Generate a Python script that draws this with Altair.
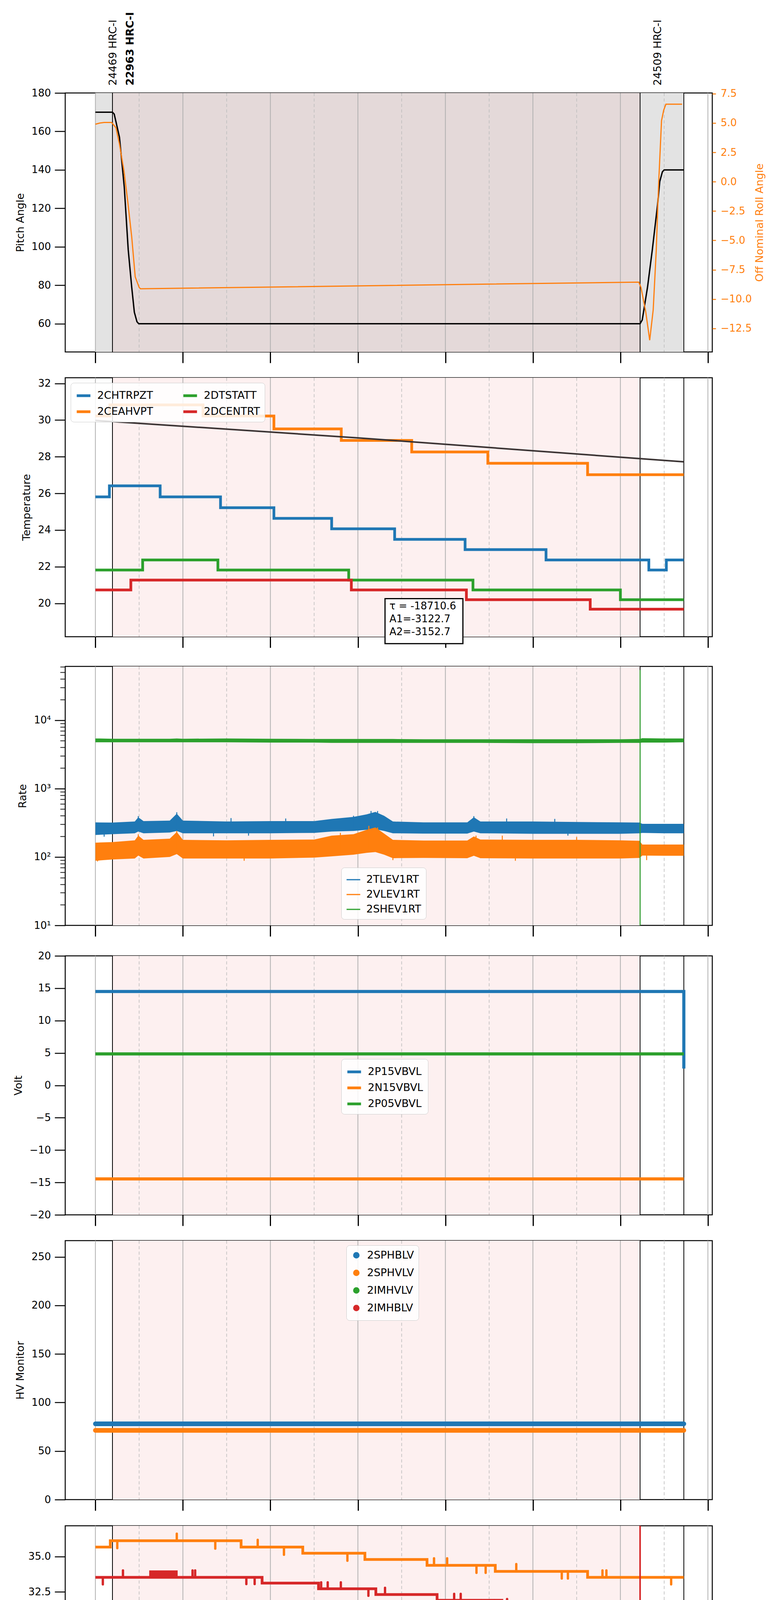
import altair as alt
import pandas as pd

BLUE, ORANGE, GREEN, RED = '#1f77b4', '#ff7f0e', '#2ca02c', '#d62728'
FONT = 'DejaVu Sans'
W, H = 1657, 663

# time axis: decimal hours on 2021-08-28 (day 240)
X_DOMAIN = [5.31, 20.1]
major_hours = [6, 8, 10, 12, 14, 16, 18, 20]
minor_hours = [7, 9, 11, 13, 15, 17, 19]

# observations
obs_ids = ['24469 HRC-I', '22963 HRC-I', '24509 HRC-I']
obs_start = [6.0, 6.39, 18.45]
obs_stop = [6.39, 18.45, 19.45]
MAIN_OBS = '22963 HRC-I'
obs_edges = [6.39, 18.45, 19.45]

# panel 1: pitch / roll
pitch_t = [6.0, 6.39, 6.43, 6.49, 6.55, 6.66, 6.75, 6.83, 6.89, 6.95, 6.99,
           18.45, 18.5, 18.62, 18.73, 18.85, 18.9, 18.96, 19.0, 19.45]
pitch_v = [170, 170, 169, 163, 157, 131, 98.5, 79, 66, 61, 60,
           60, 62, 79, 98.5, 122, 134, 139, 140, 140]
roll_t = [6.0, 6.1, 6.2, 6.37, 6.47, 6.55, 6.65, 6.74, 6.83, 6.91, 7.0, 7.03,
          18.42, 18.47, 18.58, 18.67, 18.75, 18.82, 18.87, 18.94, 18.99, 19.04, 19.41]
roll_v = [4.9, 5.0, 5.05, 5.05, 4.6, 3.2, 1.0, -1.7, -4.7, -8.1, -9.0, -9.12,
          -8.55, -9.0, -11.1, -13.5, -10.9, -5.8, -0.5, 5.2, 6.1, 6.6, 6.6]

# panel 2: temperatures
temp_names = ['2CHTRPZT', '2CEAHVPT', '2DTSTATT', '2DCENTRT']
chtrpzt_t = [6.0, 6.32, 7.48, 8.86, 10.08, 11.40, 12.84, 14.45, 16.30, 18.65, 19.05, 19.45]
chtrpzt_v = [25.81, 26.41, 25.81, 25.22, 24.64, 24.07, 23.49, 22.93, 22.37, 21.82, 22.37, 22.37]
ceahvpt_t = [6.0, 6.33, 8.46, 10.08, 11.62, 13.23, 14.97, 17.25, 19.45]
ceahvpt_v = [30.22, 30.83, 30.22, 29.52, 28.89, 28.26, 27.64, 27.02, 27.02]
dtstatt_t = [6.0, 7.08, 8.80, 11.79, 14.63, 18.0, 19.45]
dtstatt_v = [21.82, 22.37, 21.82, 21.27, 20.73, 20.20, 20.20]
dcentrt_t = [6.0, 6.81, 11.85, 14.48, 17.31, 19.45]
dcentrt_v = [20.73, 21.27, 20.73, 20.20, 19.68, 19.68]
fit_t = [6.0, 12.0, 19.45]
fit_v = [29.98, 29.03, 27.72]
fit_lines = ['\u03c4 = -18710.6', 'A1=-3122.7', 'A2=-3152.7']

# panel 3: rates (noise envelopes + spikes)
rate_names = ['2TLEV1RT', '2VLEV1RT', '2SHEV1RT']
rate_t = [6.0, 6.39, 6.9, 6.98, 7.1, 7.7, 7.86, 8.0, 9.0, 10.0, 11.0, 11.4, 11.9, 12.2,
          12.4, 12.6, 12.8, 13.5, 14.5, 14.65, 14.8, 16.0, 17.0, 18.0, 18.44, 18.5, 19.0, 19.45]
tlev_hi = [320, 318, 330, 380, 335, 340, 430, 340, 330, 335, 335, 360, 385, 420,
           455, 400, 330, 320, 320, 380, 330, 330, 325, 320, 318, 305, 305, 305]
tlev_lo = [210, 215, 222, 235, 222, 228, 240, 222, 222, 222, 225, 235, 240, 250,
           255, 240, 222, 220, 220, 235, 222, 218, 218, 218, 222, 225, 222, 222]
vlev_hi = [162, 165, 175, 205, 178, 185, 232, 178, 175, 178, 180, 205, 215, 250,
           270, 220, 178, 174, 174, 200, 180, 178, 178, 175, 172, 152, 152, 152]
vlev_lo = [88, 92, 95, 105, 95, 100, 110, 95, 95, 95, 98, 102, 108, 115,
           118, 108, 96, 97, 96, 104, 96, 95, 95, 95, 97, 105, 104, 104]
shev_hi = [5400, 5350, 5350, 5350, 5350, 5350, 5400, 5350, 5400, 5350, 5300, 5300, 5300, 5300,
           5300, 5300, 5300, 5250, 5250, 5250, 5250, 5250, 5250, 5250, 5300, 5450, 5400, 5400]
shev_lo = [4750, 4750, 4750, 4750, 4750, 4750, 4750, 4750, 4750, 4700, 4700, 4650, 4650, 4650,
           4650, 4650, 4650, 4650, 4650, 4650, 4650, 4600, 4600, 4650, 4650, 4700, 4700, 4750]
tlev_spike_t = [6.98, 7.86, 9.1, 10.35, 11.9, 12.3, 12.45, 14.65, 15.4, 16.5, 6.2, 8.7, 9.5, 16.8]
tlev_spike_lo = [260, 280, 250, 250, 270, 300, 290, 280, 250, 250, 198, 200, 205, 205]
tlev_spike_hi = [395, 450, 370, 365, 400, 470, 470, 395, 365, 360, 250, 250, 250, 250]
vlev_spike_t = [6.98, 7.86, 11.6, 12.25, 12.45, 14.7, 15.3, 17.0, 6.05, 9.4, 15.6, 18.6, 12.8]
vlev_spike_lo = [120, 130, 120, 130, 125, 120, 120, 115, 86, 88, 88, 90, 90]
vlev_spike_hi = [215, 240, 225, 285, 270, 205, 205, 195, 120, 120, 120, 120, 120]
shev_spike_t = [18.45]
shev_spike_lo = [10]
shev_spike_hi = [54000]

# panel 4: voltages
volt_names = ['2P15VBVL', '2N15VBVL', '2P05VBVL']
p15_t = [6.0, 19.45, 19.45]
p15_v = [14.5, 14.5, 2.6]
n15_t = [6.0, 19.45]
n15_v = [-14.45, -14.45]
p05_t = [6.0, 19.45]
p05_v = [4.85, 4.85]

# panel 5: HV monitors
hv_names = ['2SPHBLV', '2SPHVLV', '2IMHVLV', '2IMHBLV']
sphblv_t = [6.0, 19.45]
sphblv_v = [78.0, 78.0]
sphvlv_t = [6.0, 19.45]
sphvlv_v = [71.3, 71.3]

# panel 6: detector temperatures
det_names = ['2SPINATM', '2SPHVATM', '2IMINATM', '2IMHVATM']
spinatm_t = [6.0, 7.43, 11.82, 16.17, 16.30, 16.33, 19.45]
spinatm_v = [20.29, 20.99, 20.29, 19.63, 20.29, 19.63, 19.63]
sphvatm_t = [6.0, 6.34, 9.33, 10.74, 12.16, 13.58, 15.14, 17.25, 19.45]
sphvatm_v = [35.68, 36.13, 35.68, 35.24, 34.80, 34.38, 33.95, 33.53, 33.53]
iminatm_t = [6.0, 11.9, 16.05, 19.45]
iminatm_v = [21.70, 20.97, 20.29, 20.29]
imhvatm_t = [6.0, 9.81, 11.10, 12.41, 13.81, 15.29, 17.20, 19.45]
imhvatm_v = [33.53, 33.12, 32.72, 32.31, 31.90, 31.50, 31.12, 31.12]
sphvatm_spike_t = [6.50, 7.86, 8.74, 9.71, 10.31, 11.76, 13.74, 14.04, 14.71, 14.92,
                   15.62, 16.66, 16.80, 17.59, 17.68, 19.16]
sphvatm_spike_v = [35.60, 36.63, 35.57, 36.19, 35.13, 34.71, 34.88, 34.88, 33.85, 33.85,
                   34.47, 33.45, 33.45, 34.02, 34.02, 33.03]
imhvatm_spike_t = [6.17, 6.63, 8.22, 8.28, 9.45, 9.64, 11.16, 11.31, 11.61, 12.24, 12.62,
                   14.20, 14.35, 14.82, 15.12, 15.41, 16.45, 16.76, 16.83, 17.53, 17.63]
imhvatm_spike_v = [33.03, 34.02, 34.02, 34.02, 33.05, 33.05, 33.18, 33.18, 33.18, 32.22, 32.79,
                   32.36, 32.36, 31.42, 31.42, 31.99, 31.04, 31.04, 31.04, 31.60, 31.60]
imhvatm_block_t = [7.23, 7.88]
imhvatm_block_v = [33.53, 34.02]

# panel 7: FEA temperatures
fea_names = ['2FHTRMZT', '2FRADPYT', '2FEPRATM', '2FE00ATM']
fhtrmzt_t = [6.0, 8.17, 10.16, 12.53, 15.54, 19.45]
fhtrmzt_v = [25.21, 24.63, 24.07, 23.49, 22.92, 22.92]
fradpyt_t = [6.0, 7.11, 8.31, 10.05, 12.27, 15.22, 18.65, 18.96, 19.45]
fradpyt_v = [20.74, 20.21, 19.70, 19.17, 18.66, 18.15, 18.66, 18.15, 18.15]
fepratm_t = [6.0, 10.3, 14.12, 19.45]
fepratm_v = [26.17, 25.41, 24.63, 24.63]
fe00atm_t = [6.0, 6.26, 7.48, 8.99, 10.42, 12.13, 14.18, 16.71, 19.45]
fe00atm_v = [24.30, 24.64, 24.30, 23.96, 23.64, 23.32, 23.01, 22.67, 22.67]
fepratm_spike_t = [13.72, 14.31]
fepratm_spike_v = [24.62, 25.41]
fe00atm_spike_t = [6.03, 6.03, 6.37, 6.66, 6.80, 6.80, 6.86, 7.04, 7.14, 7.25, 7.40, 7.57, 7.74,
                   7.82, 7.95, 8.16, 8.42, 8.79, 9.16, 9.36, 9.62, 9.73, 10.08, 10.33, 10.65,
                   10.86, 10.94, 11.10, 11.17, 11.49, 11.95, 12.35, 12.81, 13.04, 13.21, 13.44,
                   13.80, 13.80, 13.98, 14.21, 14.57, 14.74, 14.80, 14.97, 14.97, 15.14, 15.40,
                   15.52, 16.00, 16.15, 16.48, 16.62, 16.71, 16.94, 17.14, 17.14, 17.53, 17.63,
                   17.73, 17.82, 17.93, 18.18, 18.22, 19.32]
fe00atm_spike_v = [25.0, 23.94, 23.94, 25.34, 26.03, 23.6, 23.9, 25.68, 25.34, 25.25, 25.68, 24.66, 24.66,
                   23.6, 25.0, 25.34, 23.6, 23.6, 24.32, 22.96, 24.32, 24.32, 23.6, 22.96, 24.32,
                   24.66, 21.99, 23.26, 22.96, 23.98, 22.96, 22.62, 24.32, 23.68, 23.68, 22.96,
                   23.68, 22.29, 22.96, 23.68, 22.62, 22.29, 23.35, 24.0, 21.99, 23.35, 23.68,
                   22.29, 22.29, 22.62, 23.68, 24.0, 22.29, 21.99, 24.0, 21.35, 21.99, 23.68,
                   22.29, 21.05, 23.35, 24.0, 22.29, 21.99]
glitch_t = 18.45

# y domains
PITCH_DOMAIN = [45.3, 180]
ROLL_DOMAIN = [-14.5, 7.56]
TEMP_DOMAIN = [18.18, 32.31]
RATE_DOMAIN = [10, 61000]
VOLT_DOMAIN = [-20, 20]
HV_DOMAIN = [0, 266.7]
DET_DOMAIN = [18.81, 37.19]
FEA_DOMAIN = [16.64, 27.67]

# annotation box of the fit (data coordinates of panel 2)
FIT_BOX = {'x0': 12.62, 'x1': 14.40, 'y0': 17.8, 'y1': 20.26, 'tx': 12.72, 'ty': 20.12}


def level_at(ts, vs, t):
    lvl = vs[0]
    for a, b in zip(ts, vs):
        if a <= t:
            lvl = b
    return lvl


def step_df(names, ts_list, vs_list):
    rows = []
    for name, ts, vs in zip(names, ts_list, vs_list):
        for i, (t, v) in enumerate(zip(ts, vs)):
            rows.append({'series': name, 't': t, 'v': v, 'i': i})
    return pd.DataFrame(rows)


def spike_df(names, sts_list, svs_list, ts_list, vs_list):
    rows = []
    for name, sts, svs, ts, vs in zip(names, sts_list, svs_list, ts_list, vs_list):
        for t, tip in zip(sts, svs):
            rows.append({'series': name, 't': t, 'base': level_at(ts, vs, t), 'tip': tip})
    return pd.DataFrame(rows)


xs = alt.Scale(domain=X_DOMAIN, nice=False, zero=False)
HOUR_EXPR = "(datum.value < 10 ? '0' : '') + datum.value + 'h'"

# every layer of a panel gets the very same axis object, so the layered axes merge cleanly
X_AXIS = alt.Axis(values=major_hours, labels=False, tickSize=28, tickWidth=3, title=None)
X_AXIS_BOTTOM = alt.Axis(values=major_hours, labelExpr=HOUR_EXPR, labelFontSize=28,
                         labelPadding=6, tickSize=28, tickWidth=3,
                         title='2021-08-28 (240)', titleFontSize=28, titlePadding=8)


def xq(field, xa):
    return alt.X(f'{field}:Q', scale=xs, axis=xa)


def yq(field, scale, ya):
    return alt.Y(f'{field}:Q', scale=scale, axis=ya)


def yscale(domain, **kw):
    return alt.Scale(domain=domain, nice=False, zero=False, **kw)


def legend(x, y, **kw):
    return alt.Legend(title=None, orient='none', legendX=x, legendY=y, **kw)


def colors(domain, rng, leg=None):
    if leg is None:
        return alt.Color('series:N', scale=alt.Scale(domain=domain, range=rng), legend=None)
    return alt.Color('series:N', scale=alt.Scale(domain=domain, range=rng), legend=leg)


obs_df = pd.DataFrame({'obs': obs_ids, 'start': obs_start, 'stop': obs_stop})
major_df = pd.DataFrame({'h': major_hours})
minor_df = pd.DataFrame({'h': minor_hours})
edge_df = pd.DataFrame({'t': obs_edges})


def backdrop(xa, top=False, bottom=False):
    layers = []
    if top:
        layers.append(alt.Chart(obs_df).mark_rect(color='#e3e3e3').encode(
            x=xq('start', xa), x2='stop:Q'))
    layers.append(alt.Chart(obs_df).transform_filter(alt.datum.obs == MAIN_OBS).mark_rect(
        color='#e4d9d9' if top else '#fdf0f0').encode(x=xq('start', xa), x2='stop:Q'))
    layers.append(alt.Chart(major_df).mark_rule(color='#b0b0b0', strokeWidth=2).encode(x=xq('h', xa)))
    layers.append(alt.Chart(minor_df).mark_rule(color='#bdbdbd', strokeWidth=1.6, strokeDash=[8, 6]).encode(
        x=xq('h', xa)))
    layers.append(alt.Chart(edge_df).mark_rule(color='black', strokeWidth=2).encode(x=xq('t', xa)))
    if bottom:
        # small odd-hour labels just under the frame
        layers.append(alt.Chart(minor_df).transform_calculate(
            label="(datum.h < 10 ? '0' : '') + datum.h + 'h'").mark_text(
            fontSize=17, baseline='top', dy=7, font=FONT).encode(
            x=xq('h', xa), y=alt.value(H), text='label:N'))
    return layers


# ---------------- panel 1 ----------------
ys_pitch = yscale(PITCH_DOMAIN)
ys_roll = yscale(ROLL_DOMAIN)
ya_pitch = alt.Axis(values=list(range(60, 181, 20)), title='Pitch Angle')
ya_roll = alt.Axis(orient='right', values=[-12.5, -10, -7.5, -5, -2.5, 0, 2.5, 5, 7.5], format='.1f',
                   labelColor=ORANGE, tickColor=ORANGE, tickSize=9, labelPadding=12,
                   title='Off Nominal Roll Angle', titleColor=ORANGE, titleAngle=270, titleBaseline='top',
                   titlePadding=8)
pitch_line = alt.Chart(pd.DataFrame({'t': pitch_t, 'v': pitch_v})).mark_line(
    color='black', strokeWidth=3.5).encode(x=xq('t', X_AXIS), y=yq('v', ys_pitch, ya_pitch))
roll_line = alt.Chart(pd.DataFrame({'t': roll_t, 'v': roll_v})).mark_line(
    color=ORANGE, strokeWidth=3).encode(x=xq('t', X_AXIS), y=yq('v', ys_roll, ya_roll))
obs_text = alt.Chart(obs_df).transform_filter(alt.datum.obs != MAIN_OBS).mark_text(
    angle=270, align='left', baseline='middle', dy=46, fontSize=27, font=FONT).encode(
    x=xq('start', X_AXIS), y=alt.value(-19), text='obs:N')
obs_text_main = alt.Chart(obs_df).transform_filter(alt.datum.obs == MAIN_OBS).mark_text(
    angle=270, align='left', baseline='middle', dy=46, fontSize=27, font=FONT,
    fontWeight='bold').encode(
    x=xq('start', X_AXIS), y=alt.value(-19), text='obs:N')
panel1 = alt.layer(*backdrop(X_AXIS, top=True), pitch_line, roll_line, obs_text, obs_text_main).resolve_scale(
    y='independent').properties(width=W, height=H)

# ---------------- panel 2 ----------------
ys_temp = yscale(TEMP_DOMAIN)
ya_temp = alt.Axis(values=list(range(20, 33, 2)), title='Temperature')
temp_df = step_df(temp_names, [chtrpzt_t, ceahvpt_t, dtstatt_t, dcentrt_t],
                  [chtrpzt_v, ceahvpt_v, dtstatt_v, dcentrt_v])
temp_lines = alt.Chart(temp_df).mark_line(interpolate='step-after', strokeWidth=7).encode(
    x=xq('t', X_AXIS), y=yq('v', ys_temp, ya_temp),
    color=colors(temp_names, [BLUE, ORANGE, GREEN, RED], legend(14, 13, columns=2, columnPadding=62)))
fit_line = alt.Chart(pd.DataFrame({'t': fit_t, 'v': fit_v})).mark_line(
    color='#3b3434', strokeWidth=4).encode(x=xq('t', X_AXIS), y=yq('v', ys_temp, ya_temp))
box_df = pd.DataFrame([dict(FIT_BOX, label='\n'.join(fit_lines))])
fit_box = alt.Chart(box_df).mark_rect(fill='white', stroke='black', strokeWidth=3).encode(
    x=xq('x0', X_AXIS), x2='x1:Q', y=yq('y0', ys_temp, ya_temp), y2='y1:Q')
fit_text = alt.Chart(box_df).mark_text(
    align='left', baseline='top', lineBreak='\n', fontSize=26, lineHeight=33, font=FONT).encode(
    x=xq('tx', X_AXIS), y=yq('ty', ys_temp, ya_temp), text='label:N')
panel2 = alt.layer(*backdrop(X_AXIS), temp_lines, fit_line, fit_box, fit_text).properties(width=W, height=H)

# ---------------- panel 3 ----------------
RATE_TICKS = [m * 10 ** e for e in range(1, 5) for m in range(1, 10) if m * 10 ** e <= RATE_DOMAIN[1]]
DECADES = "indexof([10, 100, 1000, 10000], datum.value) >= 0"
ys_rate = yscale(RATE_DOMAIN, type='log')
ya_rate = alt.Axis(
    values=RATE_TICKS, title='Rate', labelOverlap=False,
    labelExpr="datum.value == 10 ? '10\u00b9' : datum.value == 100 ? '10\u00b2' : "
              "datum.value == 1000 ? '10\u00b3' : datum.value == 10000 ? '10\u2074' : ''",
    tickSize={'condition': {'test': DECADES, 'value': 27}, 'value': 13},
    tickWidth={'condition': {'test': DECADES, 'value': 2.5}, 'value': 1.8})
rate_cols = [BLUE, ORANGE, GREEN]
band_rows = []
for name, his, los in zip(rate_names, [tlev_hi, vlev_hi, shev_hi], [tlev_lo, vlev_lo, shev_lo]):
    for t, hi, lo in zip(rate_t, his, los):
        band_rows.append({'series': name, 't': t, 'hi': hi, 'lo': lo})
band_df = pd.DataFrame(band_rows)
rate_spike_rows = []
for name, sts, slo, shi in zip(rate_names, [tlev_spike_t, vlev_spike_t, shev_spike_t],
                               [tlev_spike_lo, vlev_spike_lo, shev_spike_lo],
                               [tlev_spike_hi, vlev_spike_hi, shev_spike_hi]):
    for t, lo, hi in zip(sts, slo, shi):
        rate_spike_rows.append({'series': name, 't': t, 'lo': lo, 'hi': hi})
rate_spike_df = pd.DataFrame(rate_spike_rows)
rate_layers = []
for name, col in zip(rate_names, rate_cols):
    rate_layers.append(alt.Chart(band_df).transform_filter(alt.datum.series == name).mark_area(
        color=col, opacity=1).encode(x=xq('t', X_AXIS), y=yq('lo', ys_rate, ya_rate), y2='hi:Q'))
rate_spikes = alt.Chart(rate_spike_df).mark_rule(strokeWidth=2.5).encode(
    x=xq('t', X_AXIS), y=yq('lo', ys_rate, ya_rate), y2='hi:Q',
    color=colors(rate_names, rate_cols, legend(707, 515, symbolStrokeWidth=3)))
panel3 = alt.layer(*backdrop(X_AXIS), *rate_layers, rate_spikes).properties(width=W, height=H)

# ---------------- panel 4 ----------------
ys_volt = yscale(VOLT_DOMAIN)
ya_volt = alt.Axis(values=list(range(-20, 21, 5)), title='Volt')
volt_df = step_df(volt_names, [p15_t, n15_t, p05_t], [p15_v, n15_v, p05_v])
volt_lines = alt.Chart(volt_df).mark_line(strokeWidth=8).encode(
    x=xq('t', X_AXIS), y=yq('v', ys_volt, ya_volt),
    color=colors(volt_names, [BLUE, ORANGE, GREEN], legend(707, 264)),
    order='i:Q')
panel4 = alt.layer(*backdrop(X_AXIS), volt_lines).properties(width=W, height=H)

# ---------------- panel 5 ----------------
ys_hv = yscale(HV_DOMAIN)
ya_hv = alt.Axis(values=list(range(0, 251, 50)), title='HV Monitor')
hv_df = step_df(hv_names[:2], [sphblv_t, sphvlv_t], [sphblv_v, sphvlv_v])
hv_cols = [BLUE, ORANGE, GREEN, RED]
hv_points = alt.Chart(hv_df).mark_circle(size=110, opacity=1).encode(
    x=xq('t', X_AXIS), y=yq('v', ys_hv, ya_hv),
    color=colors(hv_names, hv_cols, legend(720, 12, symbolType='circle', symbolSize=90)))
hv_lines = alt.Chart(hv_df).mark_line(strokeWidth=12, strokeCap='round').encode(
    x=xq('t', X_AXIS), y=yq('v', ys_hv, ya_hv), color=colors(hv_names, hv_cols))
panel5 = alt.layer(*backdrop(X_AXIS), hv_points, hv_lines).properties(width=W, height=H)

# ---------------- panel 6 ----------------
ys_det = yscale(DET_DOMAIN)
ya_det = alt.Axis(values=[20, 22.5, 25, 27.5, 30, 32.5, 35], format='.1f', title='Detector Temp')
det_cols = [BLUE, ORANGE, GREEN, RED]
det_df = step_df(det_names, [spinatm_t, sphvatm_t, iminatm_t, imhvatm_t],
                 [spinatm_v, sphvatm_v, iminatm_v, imhvatm_v])
det_spk = spike_df(['2SPHVATM', '2IMHVATM'], [sphvatm_spike_t, imhvatm_spike_t],
                   [sphvatm_spike_v, imhvatm_spike_v], [sphvatm_t, imhvatm_t], [sphvatm_v, imhvatm_v])
det_glitch = pd.DataFrame({'series': ['2IMINATM', '2IMHVATM'], 't': [glitch_t, glitch_t],
                           'base': [level_at(iminatm_t, iminatm_v, glitch_t),
                                    level_at(imhvatm_t, imhvatm_v, glitch_t)],
                           'tip': [DET_DOMAIN[0], DET_DOMAIN[1]]})
det_block = pd.DataFrame({'series': ['2IMHVATM'], 't0': [imhvatm_block_t[0]], 't1': [imhvatm_block_t[1]],
                          'lo': [imhvatm_block_v[0]], 'hi': [imhvatm_block_v[1]]})
det_lines = alt.Chart(det_df).mark_line(interpolate='step-after', strokeWidth=7).encode(
    x=xq('t', X_AXIS), y=yq('v', ys_det, ya_det),
    color=colors(det_names, det_cols, legend(707, 243)))
det_spikes = alt.Chart(det_spk).mark_rule(strokeWidth=6, strokeCap='round').encode(
    x=xq('t', X_AXIS), y=yq('base', ys_det, ya_det), y2='tip:Q', color=colors(det_names, det_cols))
det_blk = alt.Chart(det_block).mark_rect().encode(
    x=xq('t0', X_AXIS), x2='t1:Q', y=yq('lo', ys_det, ya_det), y2='hi:Q',
    color=colors(det_names, det_cols))
det_gl = alt.Chart(det_glitch).mark_rule(strokeWidth=4).encode(
    x=xq('t', X_AXIS), y=yq('base', ys_det, ya_det), y2='tip:Q', color=colors(det_names, det_cols))
panel6 = alt.layer(*backdrop(X_AXIS), det_lines, det_spikes, det_blk, det_gl).properties(width=W, height=H)

# ---------------- panel 7 ----------------
ys_fea = yscale(FEA_DOMAIN)
ya_fea = alt.Axis(values=list(range(18, 27, 2)), title='FEA Temp')
fea_cols = [BLUE, ORANGE, GREEN, RED]
fea_df = step_df(fea_names, [fhtrmzt_t, fradpyt_t, fepratm_t, fe00atm_t],
                 [fhtrmzt_v, fradpyt_v, fepratm_v, fe00atm_v])
fea_spk = spike_df(['2FEPRATM', '2FE00ATM'], [fepratm_spike_t, fe00atm_spike_t],
                   [fepratm_spike_v, fe00atm_spike_v], [fepratm_t, fe00atm_t], [fepratm_v, fe00atm_v])
fea_glitch = pd.DataFrame({'series': ['2FEPRATM', '2FE00ATM'], 't': [glitch_t, glitch_t],
                           'base': [level_at(fepratm_t, fepratm_v, glitch_t),
                                    level_at(fe00atm_t, fe00atm_v, glitch_t)],
                           'tip': [FEA_DOMAIN[1], FEA_DOMAIN[0]]})
XB = X_AXIS_BOTTOM
fea_lines = alt.Chart(fea_df).mark_line(interpolate='step-after', strokeWidth=7).encode(
    x=xq('t', XB), y=yq('v', ys_fea, ya_fea),
    color=colors(fea_names, fea_cols, legend(14, 471)))
fea_spikes = alt.Chart(fea_spk).mark_rule(strokeWidth=6, strokeCap='round').encode(
    x=xq('t', XB), y=yq('base', ys_fea, ya_fea), y2='tip:Q', color=colors(fea_names, fea_cols))
fea_gl = alt.Chart(fea_glitch).mark_rule(strokeWidth=4).encode(
    x=xq('t', XB), y=yq('base', ys_fea, ya_fea), y2='tip:Q', color=colors(fea_names, fea_cols))
panel7 = alt.layer(*backdrop(XB, bottom=True), fea_lines, fea_spikes, fea_gl).properties(width=W, height=H)

chart = alt.vconcat(panel1, panel2, panel3, panel4, panel5, panel6, panel7, spacing=32).resolve_scale(
    color='independent'
).properties(
    padding={'left': 20, 'top': 21, 'right': 10, 'bottom': 10}
).configure(font=FONT).configure_view(
    stroke='black', strokeWidth=2.5
).configure_axis(
    labelFont=FONT, labelFontSize=26, labelColor='black', titleFont=FONT, titleFontSize=27,
    titleFontWeight='normal', titleColor='black', tickColor='black', tickWidth=2.5, tickSize=27,
    domain=False, grid=False, labelPadding=10, titlePadding=14, labelFlush=False
).configure_legend(
    labelFont=FONT, labelFontSize=27, labelColor='black', fillColor='rgba(255,255,255,0.85)',
    strokeColor='#cccccc', cornerRadius=8, padding=12, rowPadding=6, symbolType='stroke',
    symbolStrokeWidth=7, symbolSize=1225, labelOffset=14
)

chart.save("out.html", embed_options={"renderer": "svg", "actions": False})
